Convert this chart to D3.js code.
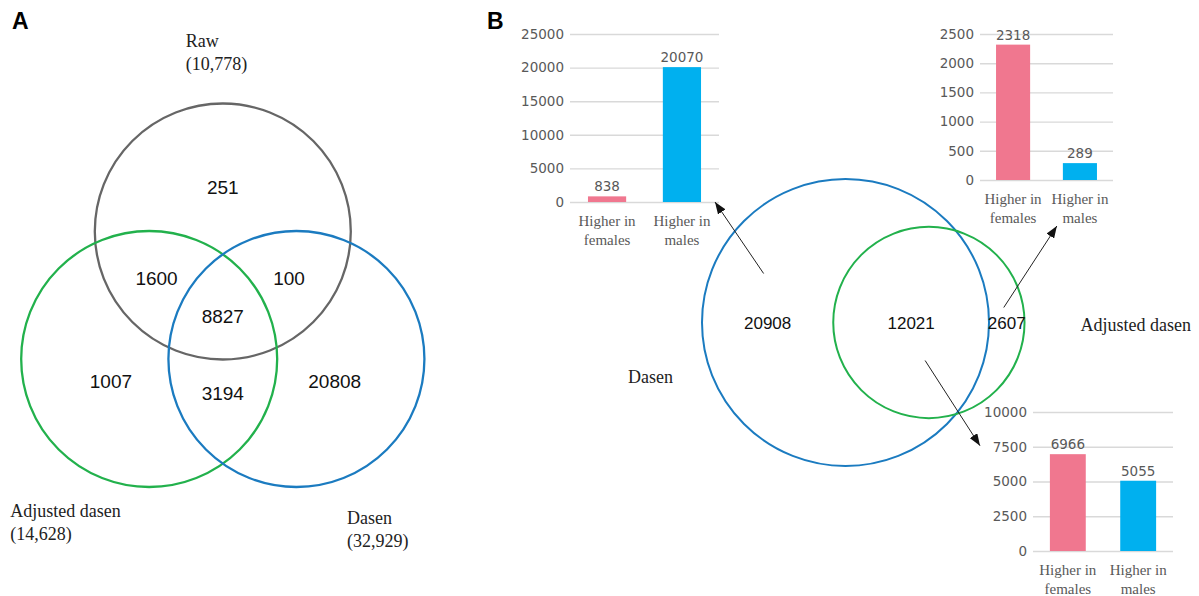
<!DOCTYPE html>
<html>
<head>
<meta charset="utf-8">
<script src="https://cdn.jsdelivr.net/npm/d3@7"></script>
<style>
  body { margin: 0; background: #fff; }
  svg { display: block; }
</style>
</head>
<body>
<svg id="fig" width="1199" height="596"></svg>
<script>
// ---- Panel A: three-way overlap of gene sets ----
const setNamesA = ["Raw", "Adjusted dasen", "Dasen"];
const setTotalsA = ["(10,778)", "(14,628)", "(32,929)"];
const regionMembersA = [
  [0], [0, 1], [0, 2], [0, 1, 2], [1], [1, 2], [2]
];
const regionCountsA = [251, 1600, 100, 8827, 1007, 3194, 20808];

// ---- Panel B: Dasen vs Adjusted dasen ----
const setNamesB = ["Dasen", "Adjusted dasen"];
const setSizesB = [32929, 14628];
const regionNamesB = ["Dasen only", "Both", "Adjusted only"];
const regionCountsB = [20908, 12021, 2607];

// ---- Sex-bias breakdown of each region ----
const sexCategories = ["Higher in females", "Higher in males"];
const dasenOnlyCounts = [838, 20070];
const dasenOnlyTicks = [0, 5000, 10000, 15000, 20000, 25000];
const adjustedOnlyCounts = [2318, 289];
const adjustedOnlyTicks = [0, 500, 1000, 1500, 2000, 2500];
const sharedCounts = [6966, 5055];
const sharedTicks = [0, 2500, 5000, 7500, 10000];

const svg = d3.select("#fig");
svg.append("rect").attr("width", 1199).attr("height", 596).attr("fill", "#fff");

const SERIF = "'Liberation Serif', 'Times New Roman', serif";
const SANS = "'Liberation Sans', Arial, sans-serif";
const TICKFONT = "'DejaVu Sans', Verdana, sans-serif";
const GREY_TEXT = "#595959";
const colors = { raw: "#666666", adjusted: "#22b14c", dasen: "#1b7bc0", female: "#f0778f", male: "#00b0ef" };

// arrowhead
svg.append("defs").append("marker")
  .attr("id", "arrowhead")
  .attr("markerUnits", "userSpaceOnUse")
  .attr("viewBox", "0 0 12 9")
  .attr("refX", 12).attr("refY", 4.5)
  .attr("markerWidth", 12).attr("markerHeight", 9)
  .attr("orient", "auto")
  .append("path").attr("d", "M0,0L12,4.5L0,9Z").attr("fill", "#111");

// panel letters
svg.append("text").attr("x", 12).attr("y", 29).text("A")
  .attr("font-family", SANS).attr("font-weight", "bold").attr("font-size", 23);
svg.append("text").attr("x", 487).attr("y", 29).text("B")
  .attr("font-family", SANS).attr("font-weight", "bold").attr("font-size", 23);

// ================= Panel A =================
(function () {
  const centroid = [222.8, 316.5];
  const spread = 85;       // distance of each circle centre from the centroid
  const radius = 128;
  const angles = [-90, 150, 30].map(a => a * Math.PI / 180);
  const strokes = [colors.raw, colors.adjusted, colors.dasen];
  const centers = angles.map(a => [centroid[0] + spread * Math.cos(a), centroid[1] + spread * Math.sin(a)]);

  const gA = svg.append("g");
  gA.selectAll("circle.set").data(centers).join("circle")
    .attr("class", "set")
    .attr("cx", d => d[0]).attr("cy", d => d[1]).attr("r", radius)
    .attr("fill", "none")
    .attr("stroke", (d, i) => strokes[i])
    .attr("stroke-width", 2.3);

  // region label positions follow the set membership
  function regionPos(members) {
    if (members.length === 1) {
      const a = angles[members[0]];
      return [centroid[0] + 1.52 * spread * Math.cos(a), centroid[1] + 1.52 * spread * Math.sin(a)];
    }
    if (members.length === 2) {
      const out = [0, 1, 2].find(k => !members.includes(k));
      const a = angles[out];
      return [centroid[0] - 0.9 * spread * Math.cos(a), centroid[1] - 0.9 * spread * Math.sin(a)];
    }
    return centroid.slice();
  }

  gA.selectAll("text.count").data(regionCountsA).join("text")
    .attr("class", "count")
    .attr("x", (d, i) => regionPos(regionMembersA[i])[0])
    .attr("y", (d, i) => regionPos(regionMembersA[i])[1])
    .attr("dy", "0.36em")
    .attr("text-anchor", "middle")
    .attr("font-family", SANS).attr("font-size", 19)
    .attr("fill", "#111")
    .text(d => d);

  // set names placed around their circles
  const nameOffsets = [[-37, -185], [-139, 158], [50.5, 165]];
  setNamesA.forEach((name, i) => {
    const x = centers[i][0] + nameOffsets[i][0];
    const y = centers[i][1] + nameOffsets[i][1];
    const t = gA.append("text").attr("font-family", SANS).attr("font-size", 18)
      .attr("font-family", SERIF).attr("fill", "#222");
    t.append("tspan").attr("x", x).attr("y", y).text(name);
    t.append("tspan").attr("x", x).attr("y", y + 23).text(setTotalsA[i]);
  });
})();

// ================= Panel B: area-proportional pair =================
const vennB = (function () {
  const rScale = d3.scaleSqrt().domain([0, setSizesB[0]]).range([0, 143.5]);
  const R = rScale(setSizesB[0]);
  const r = rScale(setSizesB[1]);
  const overlap = regionCountsB[1];
  const target = overlap / setSizesB[0] * Math.PI * R * R;

  function lens(d) {
    if (d >= R + r) return 0;
    if (d <= R - r) return Math.PI * r * r;
    const a1 = Math.acos((d * d + r * r - R * R) / (2 * d * r));
    const a2 = Math.acos((d * d + R * R - r * r) / (2 * d * R));
    const k = Math.sqrt((-d + r + R) * (d + r - R) * (d - r + R) * (d + r + R));
    return r * r * a1 + R * R * a2 - 0.5 * k;
  }
  // find the centre distance that yields the overlap area
  let lo = R - r, hi = R + r;
  for (let i = 0; i < 60; i++) {
    const mid = (lo + hi) / 2;
    if (lens(mid) > target) lo = mid; else hi = mid;
  }
  const dist = (lo + hi) / 2;

  const cy = 322.5;
  const cxBig = 845.5;
  const cxSmall = cxBig + dist;
  const circles = [
    { cx: cxBig, r: R, color: colors.dasen },
    { cx: cxSmall, r: r, color: colors.adjusted }
  ];

  const gB = svg.append("g");
  gB.selectAll("circle").data(circles).join("circle")
    .attr("cx", d => d.cx).attr("cy", cy).attr("r", d => d.r)
    .attr("fill", "none").attr("stroke", d => d.color).attr("stroke-width", 2);

  // label each region at the middle of its span along the centre line
  const edges = [cxBig - R, cxSmall - r, cxBig + R, cxSmall + r];
  const labelX = [0, 1, 2].map(i => (edges[i] + edges[i + 1]) / 2);
  gB.selectAll("text.count").data(regionCountsB).join("text")
    .attr("class", "count")
    .attr("x", (d, i) => labelX[i]).attr("y", cy)
    .attr("dy", "0.36em")
    .attr("text-anchor", "middle")
    .attr("font-family", SANS).attr("font-size", 17).attr("fill", "#111")
    .text(d => d);

  gB.append("text").attr("x", edges[0] - 74).attr("y", cy + 60)
    .attr("font-family", SERIF).attr("font-size", 18).attr("fill", "#222")
    .text(setNamesB[0]);
  gB.append("text").attr("x", edges[3] + 56).attr("y", cy + 8)
    .attr("font-family", SERIF).attr("font-size", 18).attr("fill", "#222")
    .text(setNamesB[1]);

  return { cy, labelX };
})();

// ================= Bar charts =================
function barChart(opts) {
  const g = svg.append("g");
  const x = d3.scaleBand().domain(sexCategories).range([opts.x0, opts.x1])
    .paddingInner(0.49).paddingOuter(0.24);
  const y = d3.scaleLinear().domain([0, d3.max(opts.ticks)]).range([opts.yBase, opts.yTop]);

  const axis = d3.axisLeft(y).tickValues(opts.ticks)
    .tickSize(-(opts.x1 - opts.x0)).tickPadding(6).tickFormat(d3.format("d"));
  const ax = g.append("g").attr("transform", `translate(${opts.x0},0)`).call(axis);
  ax.select(".domain").remove();
  ax.selectAll(".tick line").attr("stroke", "#d9d9d9").attr("stroke-width", 1.4);
  ax.selectAll(".tick text").attr("fill", GREY_TEXT)
    .attr("font-family", TICKFONT).attr("font-size", 13.5);

  const colorOf = [colors.female, colors.male];
  g.selectAll("rect.bar").data(opts.values).join("rect")
    .attr("class", "bar")
    .attr("x", (d, i) => x(sexCategories[i]))
    .attr("width", x.bandwidth())
    .attr("y", d => y(d))
    .attr("height", d => opts.yBase - y(d))
    .attr("fill", (d, i) => colorOf[i]);

  g.selectAll("text.value").data(opts.values).join("text")
    .attr("class", "value")
    .attr("x", (d, i) => x(sexCategories[i]) + x.bandwidth() / 2)
    .attr("y", d => y(d) - 5)
    .attr("text-anchor", "middle")
    .attr("font-family", TICKFONT).attr("font-size", 13.5).attr("fill", GREY_TEXT)
    .text(d => d);

  sexCategories.forEach(cat => {
    const cut = cat.lastIndexOf(" ");
    const lines = [cat.slice(0, cut), cat.slice(cut + 1)];
    const cx = x(cat) + x.bandwidth() / 2;
    const t = g.append("text").attr("text-anchor", "middle")
      .attr("font-family", SERIF).attr("font-size", 15).attr("fill", GREY_TEXT);
    lines.forEach((ln, j) => t.append("tspan").attr("x", cx).attr("y", opts.yBase + 24 + j * 18.5).text(ln));
  });
  return { x, y, opts };
}

const chartDasen = barChart({ x0: 570, x1: 719, yTop: 34, yBase: 202, ticks: dasenOnlyTicks, values: dasenOnlyCounts });
const chartAdjusted = barChart({ x0: 980, x1: 1113, yTop: 34, yBase: 180, ticks: adjustedOnlyTicks, values: adjustedOnlyCounts });
const chartShared = barChart({ x0: 1033, x1: 1173, yTop: 412, yBase: 551, ticks: sharedTicks, values: sharedCounts });

// ================= Arrows from regions to their breakdowns =================
const cy = vennB.cy;
const arrows = [
  { from: [vennB.labelX[0] - 4, cy - 49], to: [chartDasen.opts.x1 - 4, chartDasen.opts.yBase] },
  { from: [vennB.labelX[2] - 3, cy - 15], to: [chartAdjusted.x(sexCategories[1]) - 6, chartAdjusted.opts.yBase + 46] },
  { from: [vennB.labelX[1] + 14, cy + 38], to: [chartShared.opts.x0 - 53, chartShared.y(7500) - 1] }
];
svg.append("g").selectAll("line").data(arrows).join("line")
  .attr("x1", d => d.from[0]).attr("y1", d => d.from[1])
  .attr("x2", d => d.to[0]).attr("y2", d => d.to[1])
  .attr("stroke", "#222").attr("stroke-width", 1)
  .attr("marker-end", "url(#arrowhead)");
</script>
</body>
</html>
